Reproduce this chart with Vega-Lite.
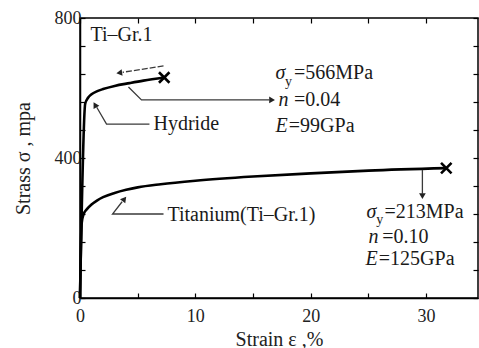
{
  "$schema": "https://vega.github.io/schema/vega-lite/v6.json",
  "width": 398,
  "height": 280,
  "autosize": {"type": "none"},
  "padding": {"left": 80, "top": 18, "right": 1, "bottom": 50},
  "background": "white",
  "config": {
    "view": {"stroke": "black", "strokeWidth": 1.5},
    "font": "Liberation Serif",
    "axis": {
      "grid": false,
      "domainColor": "black",
      "domainWidth": 1.5,
      "tickColor": "black",
      "tickWidth": 1.2,
      "tickSize": -5,
      "labelFont": "Liberation Serif",
      "labelFontSize": 18,
      "labelColor": "#222",
      "labelFlush": false,
      "titleFont": "Liberation Serif",
      "titleFontSize": 20,
      "titleFontWeight": "normal",
      "titleColor": "#222"
    }
  },
  "datasets": {
    "curves": [
      {"series": "Hydride", "ord": 0, "strain": 0, "stress": 0},
      {"series": "Hydride", "ord": 1, "strain": 0.45, "stress": 555},
      {"series": "Hydride", "ord": 2, "strain": 0.7, "stress": 572},
      {"series": "Hydride", "ord": 3, "strain": 1.0, "stress": 582},
      {"series": "Hydride", "ord": 4, "strain": 1.5, "stress": 591},
      {"series": "Hydride", "ord": 5, "strain": 2.0, "stress": 597},
      {"series": "Hydride", "ord": 6, "strain": 3.0, "stress": 606},
      {"series": "Hydride", "ord": 7, "strain": 4.3, "stress": 614},
      {"series": "Hydride", "ord": 8, "strain": 5.5, "stress": 621},
      {"series": "Hydride", "ord": 9, "strain": 7.3, "stress": 630},
      {"series": "Titanium", "ord": 0, "strain": 0, "stress": 0},
      {"series": "Titanium", "ord": 1, "strain": 0.15, "stress": 215},
      {"series": "Titanium", "ord": 2, "strain": 0.3, "stress": 238},
      {"series": "Titanium", "ord": 3, "strain": 0.6, "stress": 254},
      {"series": "Titanium", "ord": 4, "strain": 1.0, "stress": 267},
      {"series": "Titanium", "ord": 5, "strain": 1.5, "stress": 279},
      {"series": "Titanium", "ord": 6, "strain": 2.0, "stress": 288},
      {"series": "Titanium", "ord": 7, "strain": 3.0, "stress": 300},
      {"series": "Titanium", "ord": 8, "strain": 4.0, "stress": 309},
      {"series": "Titanium", "ord": 9, "strain": 5.0, "stress": 316},
      {"series": "Titanium", "ord": 10, "strain": 7.0, "stress": 325},
      {"series": "Titanium", "ord": 11, "strain": 10.0, "stress": 335},
      {"series": "Titanium", "ord": 12, "strain": 15.0, "stress": 347},
      {"series": "Titanium", "ord": 13, "strain": 20.0, "stress": 356},
      {"series": "Titanium", "ord": 14, "strain": 25.0, "stress": 364},
      {"series": "Titanium", "ord": 15, "strain": 31.75, "stress": 371}
    ],
    "fractures": [
      {"series": "Hydride", "strain": 7.3, "stress": 630},
      {"series": "Titanium", "strain": 31.75, "stress": 371}
    ],
    "leaders": [
      {"id": "hyd_n", "ord": 0, "strain": 4.2, "stress": 603},
      {"id": "hyd_n", "ord": 1, "strain": 5.33, "stress": 566},
      {"id": "hyd_n", "ord": 2, "strain": 16.4, "stress": 566},
      {"id": "hyd_label", "ord": 0, "strain": 6.02, "stress": 497},
      {"id": "hyd_label", "ord": 1, "strain": 2.3, "stress": 497},
      {"id": "hyd_label", "ord": 2, "strain": 1.45, "stress": 545},
      {"id": "ti_label", "ord": 0, "strain": 7.24, "stress": 240},
      {"id": "ti_label", "ord": 1, "strain": 2.82, "stress": 240},
      {"id": "ti_label", "ord": 2, "strain": 3.65, "stress": 275},
      {"id": "ti_sy", "ord": 0, "strain": 29.68, "stress": 366},
      {"id": "ti_sy", "ord": 1, "strain": 29.68, "stress": 298}
    ],
    "dashedLeader": [
      {"ord": 0, "strain": 7.24, "stress": 663},
      {"ord": 1, "strain": 3.7, "stress": 645}
    ],
    "arrowRight": [{"strain": 16.65, "stress": 566}],
    "arrowDown": [{"strain": 29.68, "stress": 291}],
    "arrowUpLeft": [{"strain": 1.3, "stress": 552}],
    "arrowUpRight": [{"strain": 3.85, "stress": 283}],
    "arrowLeft": [{"strain": 3.4, "stress": 643}],
    "plainText": [
      {"strain": 0.9, "stress": 751, "text": "Ti–Gr.1"},
      {"strain": 6.37, "stress": 497, "text": "Hydride"},
      {"strain": 7.58, "stress": 237, "text": "Titanium(Ti–Gr.1)"},
      {"strain": 18.55, "stress": 643, "text": "=566MPa"},
      {"strain": 18.55, "stress": 566, "text": "=0.04"},
      {"strain": 18.1, "stress": 491, "text": "=99GPa"},
      {"strain": 26.4, "stress": 246, "text": "=213MPa"},
      {"strain": 26.2, "stress": 174, "text": "=0.10"},
      {"strain": 25.9, "stress": 111, "text": "=125GPa"}
    ],
    "symbolText": [
      {"strain": 16.94, "stress": 643, "text": "σ"},
      {"strain": 17.2, "stress": 566, "text": "n"},
      {"strain": 16.94, "stress": 491, "text": "E"},
      {"strain": 24.83, "stress": 246, "text": "σ"},
      {"strain": 25.0, "stress": 174, "text": "n"},
      {"strain": 24.74, "stress": 111, "text": "E"}
    ],
    "subText": [
      {"strain": 17.78, "stress": 618, "text": "y"},
      {"strain": 25.68, "stress": 222, "text": "y"}
    ]
  },
  "resolve": {"axis": {"x": "independent", "y": "independent"}},
  "layer": [
    {
      "data": {"name": "curves"},
      "mark": {"type": "line", "color": "black", "strokeWidth": 2.6, "interpolate": "monotone"},
      "encoding": {
        "x": {
          "field": "strain", "type": "quantitative",
          "scale": {"domain": [0, 34.5], "nice": false, "zero": true},
          "axis": {
            "title": "Strain ε ,%",
            "values": [0, 5, 10, 15, 20, 25, 30],
            "labelExpr": "datum.value % 10 === 0 ? datum.label : ''",
            "labelPadding": 14,
            "titlePadding": 4
          }
        },
        "y": {
          "field": "stress", "type": "quantitative",
          "scale": {"domain": [0, 800], "nice": false},
          "axis": {
            "title": "Strass σ , mpa",
            "values": [0, 80, 160, 240, 320, 400, 480, 560, 640, 720, 800],
            "labelExpr": "datum.value % 400 === 0 ? datum.label : ''",
            "labelPadding": 4,
            "titlePadding": 21
          }
        },
        "detail": {"field": "series"},
        "order": {"field": "ord", "type": "quantitative"}
      }
    },
    {
      "data": {"name": "fractures"},
      "mark": {"type": "point", "shape": "M -1 -1 L 1 1 M -1 1 L 1 -1", "filled": false, "stroke": "black", "strokeWidth": 2.6, "size": 110, "opacity": 1},
      "encoding": {
        "x": {
          "field": "strain", "type": "quantitative",
          "axis": {"orient": "top", "title": null, "labels": false, "domain": false, "values": [0, 5, 10, 15, 20, 25, 30]}
        },
        "y": {
          "field": "stress", "type": "quantitative",
          "axis": {"orient": "right", "title": null, "labels": false, "domain": false, "values": [0, 80, 160, 240, 320, 400, 480, 560, 640, 720, 800]}
        }
      }
    },
    {
      "data": {"name": "leaders"},
      "mark": {"type": "line", "color": "#3a3a3a", "strokeWidth": 1.3},
      "encoding": {
        "x": {"field": "strain", "type": "quantitative", "axis": null},
        "y": {"field": "stress", "type": "quantitative", "axis": null},
        "detail": {"field": "id"},
        "order": {"field": "ord", "type": "quantitative"}
      }
    },
    {
      "data": {"name": "dashedLeader"},
      "mark": {"type": "line", "color": "#3a3a3a", "strokeWidth": 1.3, "strokeDash": [6, 2]},
      "encoding": {
        "x": {"field": "strain", "type": "quantitative", "axis": null},
        "y": {"field": "stress", "type": "quantitative", "axis": null},
        "order": {"field": "ord", "type": "quantitative"}
      }
    },
    {
      "data": {"name": "arrowRight"},
      "mark": {"type": "point", "shape": "triangle-right", "filled": true, "color": "#222", "size": 45, "opacity": 1},
      "encoding": {
        "x": {"field": "strain", "type": "quantitative", "axis": null},
        "y": {"field": "stress", "type": "quantitative", "axis": null}
      }
    },
    {
      "data": {"name": "arrowDown"},
      "mark": {"type": "point", "shape": "triangle-down", "filled": true, "color": "#222", "size": 45, "opacity": 1},
      "encoding": {
        "x": {"field": "strain", "type": "quantitative", "axis": null},
        "y": {"field": "stress", "type": "quantitative", "axis": null}
      }
    },
    {
      "data": {"name": "arrowUpLeft"},
      "mark": {"type": "point", "shape": "triangle-up", "angle": 330, "filled": true, "color": "#222", "size": 45, "opacity": 1},
      "encoding": {
        "x": {"field": "strain", "type": "quantitative", "axis": null},
        "y": {"field": "stress", "type": "quantitative", "axis": null}
      }
    },
    {
      "data": {"name": "arrowUpRight"},
      "mark": {"type": "point", "shape": "triangle-up", "angle": 38, "filled": true, "color": "#222", "size": 45, "opacity": 1},
      "encoding": {
        "x": {"field": "strain", "type": "quantitative", "axis": null},
        "y": {"field": "stress", "type": "quantitative", "axis": null}
      }
    },
    {
      "data": {"name": "arrowLeft"},
      "mark": {"type": "point", "shape": "triangle-left", "angle": 352, "filled": true, "color": "#222", "size": 45, "opacity": 1},
      "encoding": {
        "x": {"field": "strain", "type": "quantitative", "axis": null},
        "y": {"field": "stress", "type": "quantitative", "axis": null}
      }
    },
    {
      "data": {"name": "plainText"},
      "mark": {"type": "text", "align": "left", "baseline": "middle", "font": "Liberation Serif", "fontSize": 20, "color": "#1a1a1a"},
      "encoding": {
        "x": {"field": "strain", "type": "quantitative", "axis": null},
        "y": {"field": "stress", "type": "quantitative", "axis": null},
        "text": {"field": "text"}
      }
    },
    {
      "data": {"name": "symbolText"},
      "mark": {"type": "text", "align": "left", "baseline": "middle", "font": "Liberation Serif", "fontStyle": "italic", "fontSize": 20, "color": "#1a1a1a"},
      "encoding": {
        "x": {"field": "strain", "type": "quantitative", "axis": null},
        "y": {"field": "stress", "type": "quantitative", "axis": null},
        "text": {"field": "text"}
      }
    },
    {
      "data": {"name": "subText"},
      "mark": {"type": "text", "align": "left", "baseline": "middle", "font": "Liberation Serif", "fontSize": 14, "color": "#1a1a1a"},
      "encoding": {
        "x": {"field": "strain", "type": "quantitative", "axis": null},
        "y": {"field": "stress", "type": "quantitative", "axis": null},
        "text": {"field": "text"}
      }
    }
  ]
}
